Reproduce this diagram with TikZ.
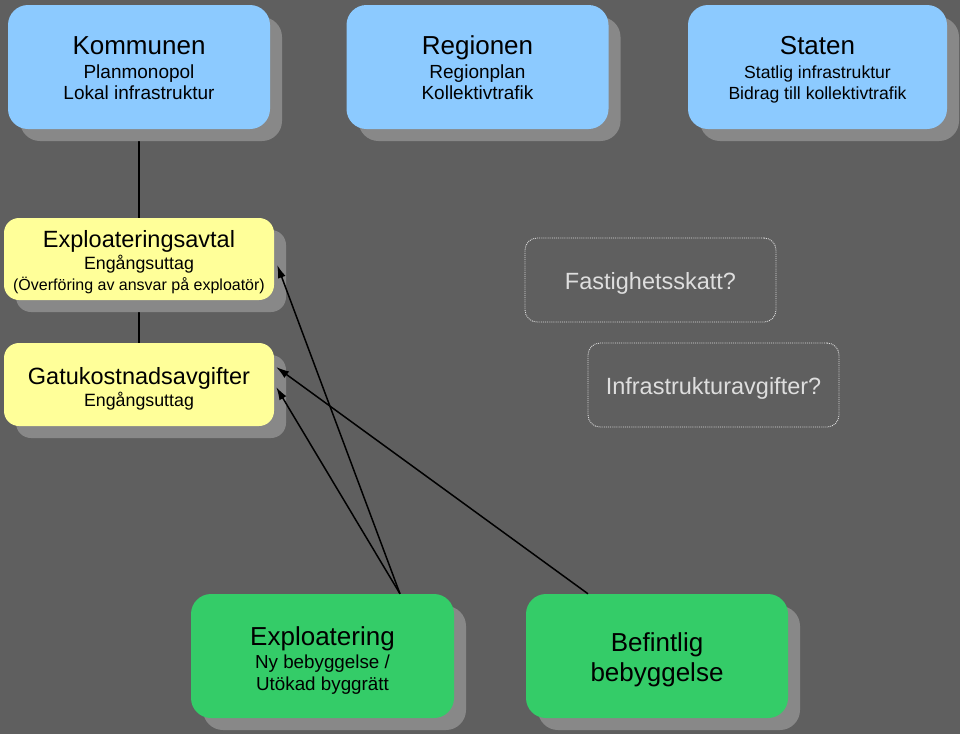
\documentclass[tikz,border=0pt]{standalone}
\usepackage{fontspec}
\setmainfont{Liberation Sans}
\usetikzlibrary{arrows.meta,shadows}
\pgfdeclarelayer{bg}
\pgfsetlayers{bg,main}
\definecolor{bgcol}{RGB}{95,95,95}
\definecolor{bluebox}{RGB}{140,202,255}
\definecolor{yellowbox}{RGB}{255,255,153}
\definecolor{greenbox}{RGB}{52,204,104}
\definecolor{shadowcol}{RGB}{136,136,136}
\definecolor{ghosttext}{RGB}{222,222,222}
\tikzset{
  shadowed/.style={drop shadow={shadow xshift=12pt,shadow yshift=-12pt,fill=shadowcol,opacity=1}},
  topbox/.style={shadowed,fill=bluebox,rounded corners=20pt,minimum width=262pt,minimum height=124pt,align=center,inner sep=0pt,text=black},
  yellowbox/.style={shadowed,fill=yellowbox,rounded corners=15pt,minimum width=270pt,minimum height=83pt,align=center,inner sep=0pt,text=black},
  greenbox/.style={shadowed,fill=greenbox,rounded corners=20pt,minimum width=263pt,minimum height=124pt,align=center,inner sep=0pt,text=black},
  dotbox/.style={draw=ghosttext,densely dotted,line width=0.9pt,rounded corners=12pt,minimum width=251pt,minimum height=84pt,align=center,inner sep=0pt,text=ghosttext,font=\fontsize{23.5}{26}\selectfont},
  conn/.style={draw=black,line width=1.5pt},
  arr/.style={conn,-{Latex[length=13pt,width=8pt]}},
}
\newcommand{\ttl}[2]{{\fontsize{#1}{#1}\selectfont #2}}
\newcommand{\dn}[1]{\rule{0pt}{#1pt}}
\begin{document}
\begin{tikzpicture}[x=1pt,y=-1pt]
\useasboundingbox (0,0) rectangle (960,734);
\begin{pgfonlayer}{bg}
\fill[bgcol] (0,0) rectangle (960,734);
\end{pgfonlayer}

% top row
\node[topbox,font=\fontsize{19}{21.5}\selectfont] (km) at (139,67)
  {\dn{21}\ttl{26}{Kommunen}\\[2pt]Planmonopol\\Lokal infrastruktur};
\node[topbox,font=\fontsize{19}{21.5}\selectfont] (rg) at (477.5,67)
  {\dn{21}\ttl{26}{Regionen}\\[2pt]Regionplan\\Kollektivtrafik};
\node[topbox,minimum width=259pt,font=\fontsize{17.6}{21}\selectfont] (st) at (817.5,67)
  {\dn{24}\ttl{26}{Staten}\\[3pt]Statlig infrastruktur\\Bidrag till kollektivtrafik};

% yellow boxes
\node[yellowbox,minimum height=82pt,font=\fontsize{17.8}{21}\selectfont] (ea) at (139,259)
  {\dn{23}\ttl{23.5}{Exploateringsavtal}\\[1pt]Engångsuttag\\{\fontsize{16}{20}\selectfont(Överföring av ansvar på exploatör)}};
\node[yellowbox,font=\fontsize{17.8}{21}\selectfont] (gk) at (139,384.5)
  {\dn{25}\ttl{23.5}{Gatukostnadsavgifter}\\[1pt]Engångsuttag};

% dotted boxes
\node[dotbox] (fs) at (650.5,280) {\dn{23}Fastighetsskatt?};
\node[dotbox] (ia) at (713.5,385) {\dn{23}Infrastrukturavgifter?};

% green boxes
\node[greenbox,font=\fontsize{18.8}{22}\selectfont] (ex) at (322.5,656)
  {\dn{27}\ttl{26}{Exploatering}\\[1pt]Ny bebyggelse /\\Utökad byggrätt};
\node[greenbox,minimum width=262pt,font=\fontsize{26}{30}\selectfont] (bf) at (657,656)
  {\dn{27}Befintlig\\bebyggelse};

% connectors
\begin{pgfonlayer}{bg}
\draw[conn] (km.south) -- (gk.north);
\end{pgfonlayer}
\coordinate (exTop) at ([xshift=77.5pt]ex.north);
\coordinate (bfTop) at ([xshift=-69pt]bf.north);
\draw[arr] (exTop) -- ([xshift=3pt,yshift=-6pt]ea.east);
\draw[arr] (exTop) -- ([xshift=2pt,yshift=-2.5pt]gk.east);
\draw[arr] (bfTop) -- ([xshift=2pt,yshift=17.5pt]gk.east);
\end{tikzpicture}
\end{document}
